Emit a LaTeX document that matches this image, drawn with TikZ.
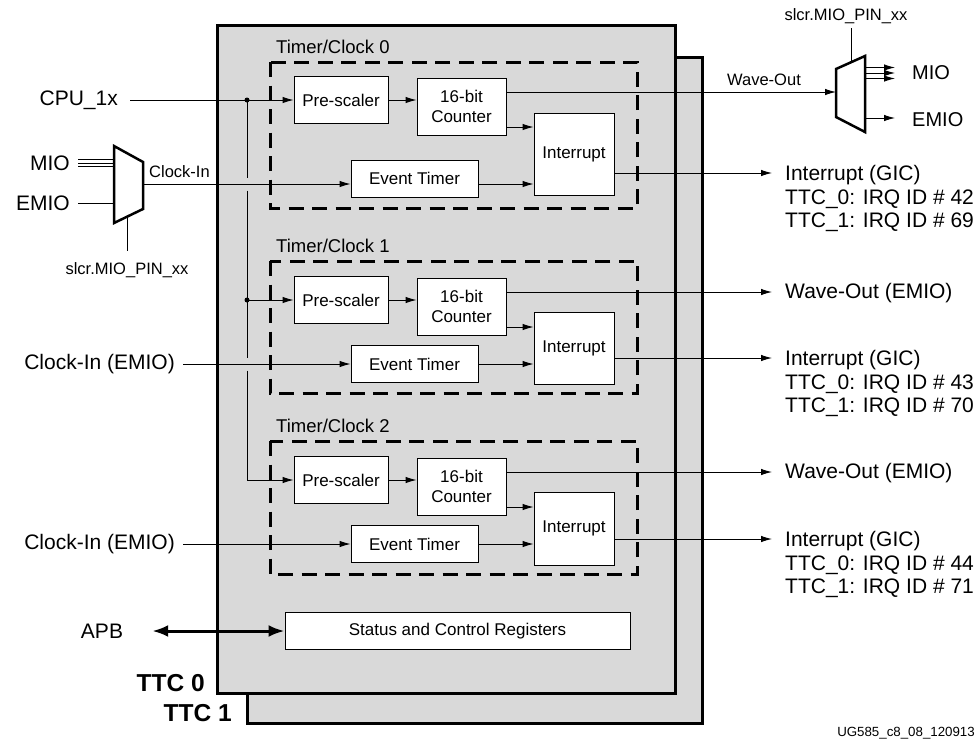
\documentclass[tikz,border=0pt]{standalone}
\usepackage{fontspec}
\setmainfont{Liberation Sans}
\usepackage{tikz}
\usetikzlibrary{arrows.meta, positioning}

\definecolor{ttcgray}{HTML}{D9D9D9}

\begin{document}
\begin{tikzpicture}[
    x=1pt, y=-1pt,
    every node/.style={inner sep=0pt, font=\fontsize{21}{23.5}\selectfont},
    block/.style={draw, fill=white, line width=0.9pt, align=center, font=\fontsize{17}{20}\selectfont},
    ttcbox/.style={draw, fill=ttcgray, line width=3pt},
    timerbox/.style={draw, line width=3pt, dash pattern=on 15pt off 8.5pt},
    mux/.style={draw, fill=white, line width=2.5pt, line join=miter},
    wire/.style={line width=0.9pt},
    arrow/.style={wire, ->, >={Latex[length=11pt, width=6.5pt]}},
    busarrow/.style={line width=3pt, <->, >={Latex[length=16pt, width=12pt]}},
    smalltext/.style={font=\fontsize{16.5}{19}\selectfont},
    ttclabel/.style={font=\fontsize{24.5}{26}\selectfont\bfseries}
]
\useasboundingbox (0,0) rectangle (977,742);

% TTC 1 behind, TTC 0 in front
\draw[ttcbox] (247,57) rectangle (702,723);
\draw[ttcbox] (217,25) rectangle (675,693);

% the three timer/clock blocks
\foreach \g/\py/\eb/\el/\ia/\ib/\io/\da/\dz in {0/100/178.5/184/113/195/173/62/208, 1/300/364/364/312/384/358/261/393, 2/480/544/544/492/565/539/441/574}{
  \draw[timerbox] (270,\da) rectangle (637,\dz);
  \node[anchor=west, font=\fontsize{18.5}{20}\selectfont] (tc\g) at (276,\da-15) {Timer/Clock \g};
  \node[block, minimum width=94pt, minimum height=47pt] (pre\g) at (341,\py) {Pre-scaler};
  \node[block, minimum width=89pt, minimum height=57pt] (ctr\g) at (461.5,\py+6.5) {16-bit\\Counter};
  \node[block, minimum width=80pt, minimum height=\ib-\ia] (int\g) at (574,{(\ia+\ib)/2}) {Interrupt};
  \node[block, minimum width=127pt, minimum height=37pt] (evt\g) at (414.5,\eb) {Event Timer};
  \coordinate (el\g) at (0,\el);
  \coordinate (io\g) at (0,\io);
  \draw[arrow] (pre\g.east) -- (pre\g.east -| ctr\g.west);
  \draw[arrow] ([yshift=-20.5pt]ctr\g.east) -- ([yshift=-20.5pt]ctr\g.east -| int\g.west);
  \draw[arrow] (evt\g.east |- el\g) -- (int\g.west |- el\g);
  \pgfmathtruncatemacro\irqa{42+\g}
  \pgfmathtruncatemacro\irqb{69+\g}
  \node[anchor=base west, align=left] (irq\g) at (785,\io+54.5) {Interrupt (GIC)\\TTC\_0: IRQ ID \# \irqa\\TTC\_1: IRQ ID \# \irqb};
  \draw[arrow] (int\g.east |- io\g) -- ([xshift=-13pt]irq\g.west |- io\g);
}

% wave-out and clock-in of timer/clock 1 and 2
\foreach \g in {1,2}{
  \node[anchor=west] (wave\g) at (785,{\g*180+113}) {Wave-Out (EMIO)};
  \draw[arrow] ([yshift=14.5pt]ctr\g.east) -- ([xshift=-13pt, yshift=14.5pt]ctr\g.east -| wave\g.west);
  \node[anchor=east] (clk\g) at (175,{\g*180+184}) {Clock-In (EMIO)};
  \draw[arrow] ([xshift=8pt]clk\g.east) -- (evt\g.west);
}

% CPU_1x and the clock bus
\node[anchor=east] (cpu) at (118,100) {CPU\_1x};
\draw[arrow] ([xshift=12pt]cpu.east) -- (pre0.west);
\coordinate (dot0) at (247,100);
\draw[wire] (dot0) -- ([yshift=6.5pt]dot0 |- el0);
\draw[wire] ([yshift=-6.5pt]dot0 |- el0) -- ([yshift=6.5pt]dot0 |- el1);
\draw[arrow] ([yshift=-6.5pt]dot0 |- el1) |- (pre2.west);
\draw[arrow] (dot0 |- pre1.west) -- (pre1.west);
\fill (dot0) circle (2.5pt);
\fill (dot0 |- pre1.west) circle (2.5pt);

% input mux
\draw[mux] (114,146) -- (143,162) -- (143,209) -- (114,223) -- cycle;
\coordinate (lmuxw) at (114,0);
\coordinate (lsel) at (127,217.5);
\coordinate (lmuxout) at (143,184);
\node[anchor=east] (mioL) at (70,163) {MIO};
\node[anchor=east] (emioL) at (70,203) {EMIO};
\foreach \d in {-3.7,0,3.7}
  \draw[wire] ([xshift=8pt, yshift=\d pt]mioL.east) -- ([yshift=\d pt]mioL.east -| lmuxw);
\draw[wire] ([xshift=8pt]emioL.east) -- (emioL.east -| lmuxw);
\node[smalltext] (lslcr) at (127,270) {slcr.MIO\_PIN\_xx};
\draw[wire] (lsel) -- ([yshift=11pt]lslcr.north);
\node[smalltext] (clkin0) at (179.5,171.5) {Clock-In};
\draw[arrow] (lmuxout) -- (lmuxout -| evt0.west);

% output mux
\draw[mux] (836,69) -- (865,56) -- (865,132) -- (836,117) -- cycle;
\coordinate (rmuxw) at (836,0);
\coordinate (rmuxe) at (865,0);
\coordinate (rsel) at (851,62.3);
\draw[arrow] ([yshift=14.5pt]ctr0.east) -- ([yshift=14.5pt]ctr0.east -| rmuxw);
\node[smalltext] (wave0) at (764,80) {Wave-Out};
\node[smalltext] (rslcr) at (846,16) {slcr.MIO\_PIN\_xx};
\draw[wire] (rsel) -- ([yshift=-4pt]rslcr.south -| rsel);
\node[anchor=west, font=\fontsize{20}{22}\selectfont] (mioR) at (912,73) {MIO};
\node[anchor=west, font=\fontsize{20}{22}\selectfont] (emioR) at (912,120) {EMIO};
\foreach \d in {-5.5,0,5.5}
  \draw[arrow] ([yshift=\d pt]mioR.west -| rmuxe) -- ([xshift=-17pt, yshift=\d pt]mioR.west);
\draw[arrow] ([yshift=2pt]emioR.west -| rmuxe) -- ([xshift=-17pt, yshift=2pt]emioR.west);

% registers and APB
\node[block, minimum width=345pt, minimum height=37pt] (status) at (457.5,631) {Status and Control Registers};
\node (apb) at (102,631) {APB};
\draw[busarrow] ([xshift=29pt]apb.east) -- (status.west);

\node[ttclabel, anchor=east] (ttc0) at (205,683) {TTC 0};
\node[ttclabel, anchor=east] (ttc1) at (232,713) {TTC 1};
\node[anchor=east, font=\fontsize{13.3}{15}\selectfont] (docid) at (975,733) {UG585\_c8\_08\_120913};

\end{tikzpicture}
\end{document}
